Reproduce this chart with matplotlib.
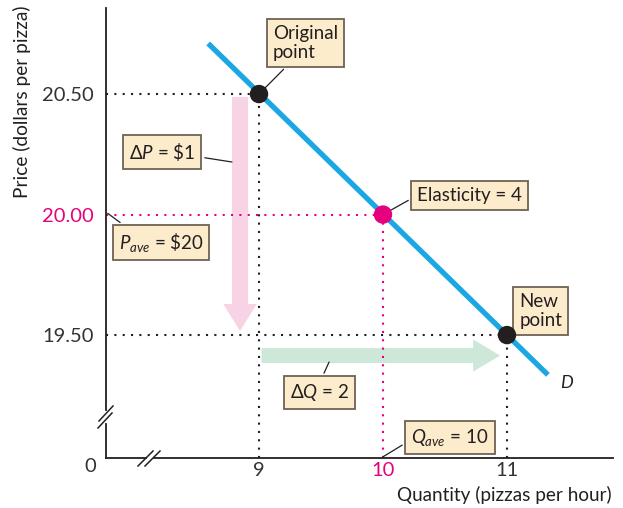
import matplotlib.pyplot as plt
from matplotlib.patches import FancyArrow
from matplotlib.lines import Line2D

# data
demand_q = [8.59, 11.33]
demand_p = [20.71, 19.335]
point_q = [9, 10, 11]
point_p = [20.5, 20.0, 19.5]
point_colors = ['#231f20', '#e6007e', '#231f20']
x_ticks = [9, 10, 11]
x_tick_labels = ['9', '10', '11']
y_ticks = [19.5, 20.0, 20.5]
y_tick_labels = ['19.50', '20.00', '20.50']
d_price = [20.488, 19.517]   # pink arrow, start / end price
d_quantity = [9.02, 10.945]  # green arrow, start / end quantity

plt.rcParams['font.family'] = ['Lato', 'DejaVu Sans']
plt.rcParams['mathtext.fontset'] = 'custom'
plt.rcParams['mathtext.rm'] = 'Lato'
plt.rcParams['mathtext.it'] = 'Lato:italic'

blue = '#1aa7e4'
magenta = '#e6007e'
ink = '#231f20'
fs = 13.5
box = dict(boxstyle='square,pad=0.32', fc='#fdeccc', ec='#6d6354', lw=1.3)

fig = plt.figure(figsize=(6.23, 5.08), dpi=100)
ax = fig.add_axes([106 / 623, 50 / 508, 507 / 623, 450 / 508])
ax.set_xlim(7.766, 11.855)
ax.set_ylim(18.99, 20.857)

for s in ['top', 'right']:
    ax.spines[s].set_visible(False)
for s in ['left', 'bottom']:
    ax.spines[s].set_color(ink)
    ax.spines[s].set_linewidth(1.3)

ax.set_xticks(x_ticks)
ax.set_xticklabels(x_tick_labels)
ax.set_yticks(y_ticks)
ax.set_yticklabels(y_tick_labels)
ax.tick_params(length=0, labelsize=14.5, colors='#333333')
ax.tick_params(axis='y', pad=9)
ax.tick_params(axis='x', pad=3)
ax.get_xticklabels()[1].set_color(magenta)
ax.get_yticklabels()[1].set_color(magenta)

# dotted guide lines
x0, y0 = ax.get_xlim()[0], ax.get_ylim()[0]
for q, p, c in zip(point_q, point_p, point_colors):
    ax.plot([x0, q], [p, p], ls=(0, (1, 3)), color=c, lw=1.5, zorder=2)
    ax.plot([q, q], [y0, p], ls=(0, (1, 3)), color=c, lw=1.5, zorder=2)

# change arrows
ax.add_patch(FancyArrow(8.847, d_price[0], 0, d_price[1] - d_price[0], width=0.13,
                        head_width=0.27, head_length=0.112, length_includes_head=True,
                        fc='#f8d3e5', ec='none', zorder=1))
ax.add_patch(FancyArrow(d_quantity[0], 19.415, d_quantity[1] - d_quantity[0], 0, width=0.062,
                        head_width=0.133, head_length=0.218, length_includes_head=True,
                        fc='#cde8d9', ec='none', zorder=1))

# demand curve and points
ax.plot(demand_q, demand_p, color=blue, lw=3.8, solid_capstyle='butt', zorder=3)
ax.scatter(point_q, point_p, s=150, c=point_colors, zorder=4)
ax.text(11.43, 19.30, 'D', fontsize=13, style='italic', color=ink, va='center')

lk = dict(arrowstyle='-', color=ink, lw=0.9)
ax.annotate('Original\npoint', xy=(9, 20.5), xytext=(9.11, 20.712), ha='left', va='center',
            fontsize=fs, color=ink, bbox=box, linespacing=1.1,
            arrowprops=dict(relpos=(0.3, 0), shrinkB=4, **lk))
ax.annotate(r'$\Delta P$ = \$1', xy=(8.782, 20.218), xytext=(8.22, 20.26), ha='center', va='center',
            fontsize=fs, color=ink, bbox=box,
            arrowprops=dict(relpos=(1, 0.3), shrinkB=0, **lk))
ax.annotate(r'$P_{ave}$ = \$20', xy=(7.78, 20.005), xytext=(8.21, 19.885), ha='center', va='center',
            fontsize=fs, color=ink, bbox=box,
            arrowprops=dict(relpos=(0.15, 1), shrinkB=0, **lk))
ax.annotate('Elasticity = 4', xy=(10, 20.0), xytext=(10.7, 20.08), ha='center', va='center',
            fontsize=fs, color=ink, bbox=box,
            arrowprops=dict(relpos=(0, 0.5), shrinkB=4, **lk))
ax.annotate('New\npoint', xy=(11, 19.5), xytext=(11.1, 19.6), ha='left', va='center',
            fontsize=fs, color=ink, bbox=box, linespacing=1.1,
            arrowprops=dict(relpos=(0.45, 0), shrinkB=4, **lk))
ax.annotate(r'$\Delta Q$ = 2', xy=(9.565, 19.388), xytext=(9.49, 19.26), ha='center', va='center',
            fontsize=fs, color=ink, bbox=box,
            arrowprops=dict(relpos=(0.5, 1), shrinkB=0, **lk))
ax.annotate(r'$Q_{ave}$ = 10', xy=(10, 18.995), xytext=(10.54, 19.075), ha='center', va='center',
            fontsize=fs, color=ink, bbox=box,
            arrowprops=dict(relpos=(0, 0.4), shrinkB=0, **lk))

# axis break marks (in pixel offsets from the axes)
def px(x, y):
    return (x - 106) / 507, (458 - y) / 450

for (xa, ya), (xb, yb) in [((98, 428), (112, 413)), ((99, 421), (113, 406)),
                           ((138, 466), (153, 451)), ((145, 466), (160, 451))]:
    a, b = px(xa, ya), px(xb, yb)
    ax.add_line(Line2D([a[0], b[0]], [a[1], b[1]], transform=ax.transAxes,
                       color=ink, lw=1.1, clip_on=False, zorder=6))
gap_y = [px(0, 421)[1], px(0, 413)[1]]
ax.add_line(Line2D([0, 0], gap_y, transform=ax.transAxes, color='white', lw=3,
                   clip_on=False, zorder=5))
gap_x = [px(149, 0)[0], px(151, 0)[0]]
ax.add_line(Line2D(gap_x, [0, 0], transform=ax.transAxes, color='white', lw=3,
                   clip_on=False, zorder=5))

fig.text(90 / 623, 1 - 466 / 508, '0', ha='center', va='center', fontsize=14.5, color='#333333')
fig.text(22 / 623, 1 - 5 / 508, 'Price (dollars per pizza)', rotation=90, ha='center', va='top',
         fontsize=13.8, color=ink)
fig.text(612 / 623, 1 - 495 / 508, 'Quantity (pizzas per hour)', ha='right', va='center',
         fontsize=13.6, color=ink)

fig.savefig('out.png', dpi=100)
